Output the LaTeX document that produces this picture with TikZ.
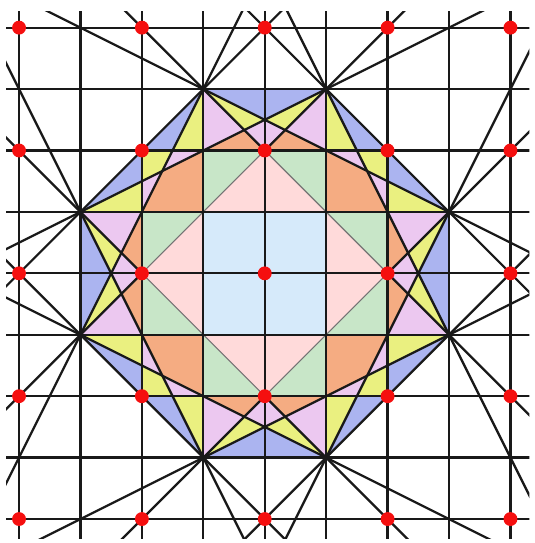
\documentclass[tikz,border=0pt]{standalone}
\usetikzlibrary{calc}
\definecolor{cblue}{RGB}{171,180,240}
\definecolor{cyellow}{RGB}{234,240,128}
\definecolor{cmag}{RGB}{236,200,240}
\definecolor{corange}{RGB}{245,172,130}
\definecolor{cgreen}{RGB}{200,230,200}
\definecolor{cpink}{RGB}{255,218,218}
\definecolor{clightblue}{RGB}{214,234,250}
\definecolor{cdot}{RGB}{245,15,15}
\newcommand\octfills{%
  \path[reg=cblue] (-1,3) -- (0,3) -- (0,2.5) -- cycle;
  \path[reg=cyellow] (-1,3) -- (0,2.5) -- (-0.33333,2.33333) -- cycle;
  \path[reg=cmag] (-1,3) -- (-1,2) -- (-0.33333,2.33333) -- cycle;
  \path[reg=cmag] (-0.33333,2.33333) -- (0,2.5) -- (0,2) -- cycle;
  \path[reg=corange] (-1,2) -- (0,2) -- (-0.33333,2.33333) -- cycle;
  \path[reg=cblue] (-1,3) -- (-2,2) -- (-1.5,2) -- cycle;
  \path[reg=cyellow] (-1,3) -- (-1.5,2) -- (-1,2) -- cycle;
  \path[reg=cyellow] (-2,2) -- (-1.5,2) -- (-1.66667,1.66667) -- cycle;
  \path[reg=cmag] (-1.5,2) -- (-1,2) -- (-1.66667,1.66667) -- cycle;
  \path[reg=corange] (-1,2) -- (-1.66667,1.66667) -- (-1,1) -- cycle;
  \path[reg=cgreen] (-1,1) -- (-1,2) -- (0,2) -- cycle;
  \path[reg=cpink] (-1,1) -- (0,2) -- (0,1) -- cycle;
  \path[reg=clightblue] (-1,1) -- (0,1) -- (0,0) -- cycle;
}
\begin{document}
\begin{tikzpicture}[
  reg/.style={fill=#1, draw=#1, line width=0.3pt, line join=round},
  darkline/.style={black!90, line width=1.05pt},
  thinline/.style={black!55, line width=0.5pt},
  reddot/.style={fill=cdot, draw=none}
]
\useasboundingbox (-4.31,-4.39) rectangle (4.39,4.45);
% octagon vertices
\coordinate (A) at (-1,3);
\coordinate (B) at (1,3);
\coordinate (C) at (3,1);
\coordinate (D) at (3,-1);
\coordinate (E) at (1,-3);
\coordinate (F) at (-1,-3);
\coordinate (G) at (-3,-1);
\coordinate (H) at (-3,1);
% coloured pieces, one octant repeated by symmetry
\foreach \r in {0,90,180,270} {
  \begin{scope}[rotate=\r] \octfills \end{scope}
  \begin{scope}[rotate=\r, cm={0,-1,-1,0,(0,0)}] \octfills \end{scope}
}
\begin{scope}
  \clip (-4.21,-4.31) rectangle (4.31,4.27);
  % inner diamond
  \draw[thinline] (0,2) -- (2,0) -- (0,-2) -- (-2,0) -- cycle;
  % grid
  \foreach \i in {-4,...,4} {
    \draw[darkline] (\i,-4.6) -- (\i,4.6);
    \draw[darkline] (-4.6,\i) -- (4.6,\i);
  }
  % octagon edges and short diagonals, extended
  \foreach \p/\q in {A/H, B/C, D/E, F/G, A/C, B/H, B/D, A/G, C/E, D/F, E/G, F/H} {
    \draw[darkline] ($(\p)!-2!(\q)$) -- ($(\q)!-2!(\p)$);
  }
  % diagonals of slope +-1, left out inside the diamond
  \foreach \p/\q in {A/D, B/G, C/F, E/H} {
    \draw[darkline] ($(\p)!-2!(\q)$) -- ($(\p)!0.25!(\q)$);
    \draw[darkline] ($(\p)!0.75!(\q)$) -- ($(\q)!-2!(\p)$);
  }
\end{scope}
% red points
\foreach \x in {-4,-2,...,4} {
  \foreach \y in {-4,-2,...,4} {
    \fill[reddot] (\x,\y) circle (0.113);
  }
}
\end{tikzpicture}
\end{document}
